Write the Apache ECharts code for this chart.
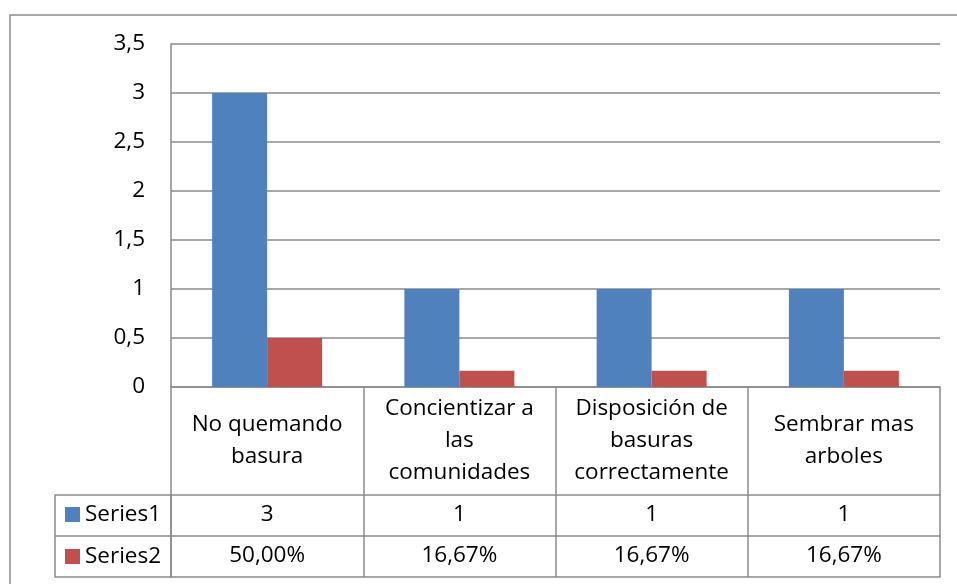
<!DOCTYPE html>
<html lang="es">
<head>
    <meta charset="UTF-8">
    <title>Series</title>
    <script type="text/javascript" src="https://cdn.jsdelivr.net/npm/echarts@6/dist/echarts.min.js"></script>
</head>
<body style="margin:0;background:#fff;">
<div id="main" style="width: 957px;height:584px;"></div>
<script type="text/javascript">
    var categories = ['No quemando\nbasura', 'Concientizar a\nlas\ncomunidades', 'Disposición de\nbasuras\ncorrectamente', 'Sembrar mas\narboles'];
    var series1 = [3, 1, 1, 1];
    var series2 = [0.5, 0.1667, 0.1667, 0.1667];
    var seriesNames = ['Series1', 'Series2'];

    var gridColor = '#8a8a8a';
    var font = 'Open Sans';
    var fontSize = 22.5;

    function pct(v) {
        return (v * 100).toFixed(2).replace('.', ',') + '%';
    }

    // eje extra para cada fila de la tabla de datos
    function tableAxis(offset, labels) {
        return {
            type: 'category',
            data: categories,
            position: 'bottom',
            offset: offset,
            axisLine: {show: true, lineStyle: {color: gridColor, width: 1.5}},
            axisTick: {show: false},
            axisLabel: {
                show: !!labels,
                interval: 0,
                margin: 20,
                verticalAlign: 'middle',
                fontFamily: font,
                fontSize: fontSize,
                color: '#000',
                formatter: function (v, i) { return labels ? labels[i] : ''; }
            }
        };
    }

    var myChart = echarts.init(document.getElementById('main'));

    var option = {
        animation: false,
        color: ['#4F81BD', '#C0504D'],
        grid: {left: 171, top: 44, width: 769, height: 343},
        legend: {
            orient: 'vertical',
            left: 65,
            top: 503,
            padding: 0,
            itemGap: 19,
            itemWidth: 15,
            itemHeight: 15,
            icon: 'rect',
            selectedMode: false,
            textStyle: {fontFamily: font, fontSize: fontSize, color: '#000', lineHeight: 22},
            data: seriesNames
        },
        xAxis: [
            {
                type: 'category',
                data: categories,
                position: 'bottom',
                axisLine: {show: true, lineStyle: {color: gridColor, width: 1.5}},
                axisTick: {show: true, length: 190, alignWithLabel: false, interval: 0,
                    lineStyle: {color: gridColor, width: 1.5}},
                axisLabel: {
                    interval: 0,
                    margin: 54,
                    verticalAlign: 'middle',
                    lineHeight: 32,
                    fontFamily: font,
                    fontSize: fontSize,
                    color: '#000'
                }
            },
            tableAxis(108, series1),
            tableAxis(149, series2.map(pct)),
            tableAxis(190, null)
        ],
        yAxis: {
            type: 'value',
            min: 0,
            max: 3.5,
            interval: 0.5,
            axisLine: {show: true, lineStyle: {color: gridColor, width: 1.5}},
            axisTick: {show: false},
            splitLine: {lineStyle: {color: gridColor, width: 1.5}},
            axisLabel: {
                margin: 26,
                fontFamily: font,
                fontSize: fontSize,
                color: '#000',
                formatter: function (v) { return String(v).replace('.', ','); }
            }
        },
        graphic: [
            {type: 'rect', shape: {x: 10, y: 15, width: 1000, height: 700},
                style: {fill: 'none', stroke: gridColor, lineWidth: 1.5}},
            {type: 'rect', shape: {x: 55, y: 495, width: 116, height: 82},
                style: {fill: 'none', stroke: gridColor, lineWidth: 1.5}},
            {type: 'line', shape: {x1: 55, y1: 536, x2: 171, y2: 536},
                style: {stroke: gridColor, lineWidth: 1.5}}
        ],
        series: [
            {name: seriesNames[0], type: 'bar', barWidth: 55, barGap: '0%', data: series1},
            {name: seriesNames[1], type: 'bar', barWidth: 55, barGap: '0%', data: series2}
        ]
    };

    myChart.setOption(option);
</script>
</body>
</html>
